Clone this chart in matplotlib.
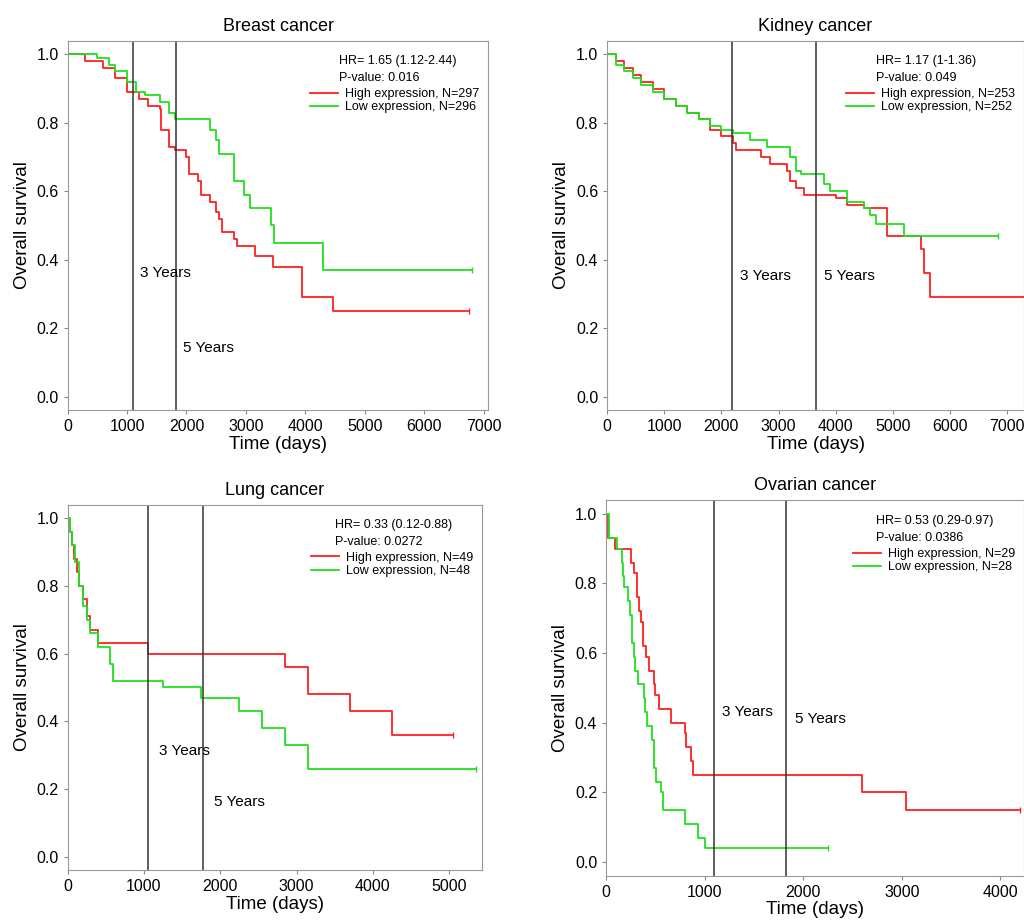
import numpy as np
import matplotlib.pyplot as plt

plt.rcParams['font.family'] = ['Liberation Sans', 'DejaVu Sans']

# ---- data ----
breast_hi_t = [0, 300, 600, 800, 1000, 1200, 1350, 1550, 1570, 1700, 1800, 2000, 2050, 2200, 2250, 2400, 2500, 2550, 2600, 2800, 2850, 3150, 3450, 3950, 4470, 6750]
breast_hi_s = [1.0, 0.98, 0.96, 0.93, 0.89, 0.87, 0.85, 0.84, 0.78, 0.73, 0.72, 0.70, 0.65, 0.63, 0.59, 0.57, 0.54, 0.52, 0.48, 0.46, 0.44, 0.41, 0.38, 0.29, 0.25, 0.25]
breast_lo_t = [0, 500, 700, 800, 1000, 1150, 1300, 1550, 1700, 1800, 2400, 2500, 2550, 2800, 2970, 3070, 3430, 3470, 4300, 6800]
breast_lo_s = [1.0, 0.99, 0.97, 0.95, 0.92, 0.89, 0.88, 0.86, 0.83, 0.81, 0.78, 0.75, 0.71, 0.63, 0.59, 0.55, 0.50, 0.45, 0.37, 0.37]

kidney_hi_t = [0, 150, 300, 450, 600, 800, 1000, 1200, 1400, 1600, 1800, 2000, 2200, 2250, 2700, 2850, 3150, 3200, 3300, 3450, 4000, 4200, 4500, 4900, 5500, 5550, 5650, 7350]
kidney_hi_s = [1.0, 0.98, 0.96, 0.94, 0.92, 0.90, 0.87, 0.85, 0.83, 0.81, 0.78, 0.76, 0.74, 0.72, 0.70, 0.68, 0.66, 0.63, 0.61, 0.59, 0.58, 0.56, 0.55, 0.47, 0.43, 0.36, 0.29, 0.29]
kidney_lo_t = [0, 150, 300, 450, 600, 800, 1000, 1200, 1400, 1600, 1800, 2000, 2200, 2500, 2800, 3200, 3300, 3400, 3800, 3900, 4200, 4500, 4600, 4700, 5200, 6850]
kidney_lo_s = [1.0, 0.97, 0.95, 0.93, 0.91, 0.89, 0.87, 0.85, 0.83, 0.81, 0.79, 0.78, 0.77, 0.75, 0.73, 0.70, 0.66, 0.65, 0.62, 0.60, 0.57, 0.55, 0.53, 0.505, 0.47, 0.47]

lung_hi_t = [0, 30, 60, 90, 120, 150, 200, 250, 300, 400, 1050, 2850, 3150, 3700, 4250, 5050]
lung_hi_s = [1.0, 0.96, 0.92, 0.88, 0.84, 0.80, 0.76, 0.71, 0.67, 0.63, 0.60, 0.56, 0.48, 0.43, 0.36, 0.36]
lung_lo_t = [0, 30, 60, 100, 150, 200, 250, 300, 400, 550, 600, 1250, 1750, 2250, 2550, 2850, 3150, 5350]
lung_lo_s = [1.0, 0.96, 0.92, 0.87, 0.80, 0.74, 0.70, 0.66, 0.62, 0.57, 0.52, 0.50, 0.47, 0.43, 0.38, 0.33, 0.26, 0.26]

ovarian_hi_t = [0, 20, 90, 250, 280, 310, 330, 350, 370, 400, 430, 490, 500, 540, 660, 800, 810, 860, 880, 2600, 3040, 4200]
ovarian_hi_s = [1.0, 0.93, 0.90, 0.86, 0.83, 0.76, 0.72, 0.69, 0.62, 0.59, 0.55, 0.51, 0.48, 0.44, 0.40, 0.37, 0.33, 0.29, 0.25, 0.20, 0.15, 0.15]
ovarian_lo_t = [0, 30, 110, 160, 170, 180, 220, 240, 260, 280, 290, 320, 380, 390, 410, 460, 480, 510, 560, 580, 800, 930, 1000, 2250]
ovarian_lo_s = [1.0, 0.93, 0.90, 0.86, 0.82, 0.79, 0.75, 0.71, 0.63, 0.59, 0.55, 0.51, 0.47, 0.43, 0.39, 0.35, 0.27, 0.23, 0.20, 0.15, 0.11, 0.07, 0.04, 0.04]

panels = [
    dict(title="Breast cancer", hi=(breast_hi_t, breast_hi_s), lo=(breast_lo_t, breast_lo_s),
         hr="HR= 1.65 (1.12-2.44)", p="P-value: 0.016", nh=297, nl=296,
         xmax=7080, xticks=range(0, 7001, 1000), lines=(1095, 1825),
         t3=(1220, 0.35), t5=(1950, 0.13), rect=[0.066, 0.556, 0.411, 0.400]),
    dict(title="Kidney cancer", hi=(kidney_hi_t, kidney_hi_s), lo=(kidney_lo_t, kidney_lo_s),
         hr="HR= 1.17 (1-1.36)", p="P-value: 0.049", nh=253, nl=252,
         xmax=7300, xticks=range(0, 7001, 1000), lines=(2190, 3650),
         t3=(2320, 0.34), t5=(3800, 0.34), rect=[0.593, 0.556, 0.407, 0.400]),
    dict(title="Lung cancer", hi=(lung_hi_t, lung_hi_s), lo=(lung_lo_t, lung_lo_s),
         hr="HR= 0.33 (0.12-0.88)", p="P-value: 0.0272", nh=49, nl=48,
         xmax=5435, xticks=range(0, 5001, 1000), lines=(1050, 1770),
         t3=(1200, 0.30), t5=(1920, 0.15), rect=[0.066, 0.058, 0.405, 0.396]),
    dict(title="Ovarian cancer", hi=(ovarian_hi_t, ovarian_hi_s), lo=(ovarian_lo_t, ovarian_lo_s),
         hr="HR= 0.53 (0.29-0.97)", p="P-value: 0.0386", nh=29, nl=28,
         xmax=4240, xticks=range(0, 4001, 1000), lines=(1095, 1825),
         t3=(1180, 0.42), t5=(1920, 0.40), rect=[0.592, 0.052, 0.408, 0.407]),
]

fig = plt.figure(figsize=(10.24, 9.24), dpi=100)
for pn in panels:
    ax = fig.add_axes(pn['rect'])
    ax.step(pn['hi'][0], pn['hi'][1], where='post', color='#ff2020', lw=1.3)
    ax.step(pn['lo'][0], pn['lo'][1], where='post', color='#20e020', lw=1.3)
    # censor ticks at the ends
    for (t, s), c in [(pn['hi'], '#ff2020'), (pn['lo'], '#20e020')]:
        ax.plot(t[-1], s[-1], marker='|', color=c, ms=5)
    for xl in pn['lines']:
        ax.axvline(xl, color='#333333', lw=1.1)
    ax.text(pn['t3'][0], pn['t3'][1], "3 Years", fontsize=11)
    ax.text(pn['t5'][0], pn['t5'][1], "5 Years", fontsize=11)
    ax.set_xlim(0, pn['xmax'])
    ax.set_ylim(-0.04, 1.04)
    ax.set_xticks(list(pn['xticks']))
    ax.set_yticks([0, 0.2, 0.4, 0.6, 0.8, 1.0])
    ax.set_yticklabels(["0.0", "0.2", "0.4", "0.6", "0.8", "1.0"])
    ax.tick_params(labelsize=11.5, length=3, color='#888888')
    for s in ax.spines.values():
        s.set_color('#999999')
    ax.set_xlabel("Time (days)", fontsize=13.5, labelpad=1)
    ax.set_ylabel("Overall survival", fontsize=13.5)
    ax.set_title(pn['title'], fontsize=13, pad=7)
    ax.text(0.645, 0.96, pn['hr'], transform=ax.transAxes, fontsize=9, va='top')
    ax.text(0.645, 0.915, pn['p'], transform=ax.transAxes, fontsize=9, va='top')
    h1, = ax.plot([], [], color='#ff2020', lw=1.3)
    h2, = ax.plot([], [], color='#20e020', lw=1.3)
    ax.legend([h1, h2], ["High expression, N=%d" % pn['nh'], "Low expression, N=%d" % pn['nl']],
              loc='upper right', bbox_to_anchor=(1.0, 0.895), frameon=False, fontsize=9,
              handlelength=2.2, handletextpad=0.6, labelspacing=0.1, borderpad=0.2)

fig.savefig("out.png", dpi=100)
